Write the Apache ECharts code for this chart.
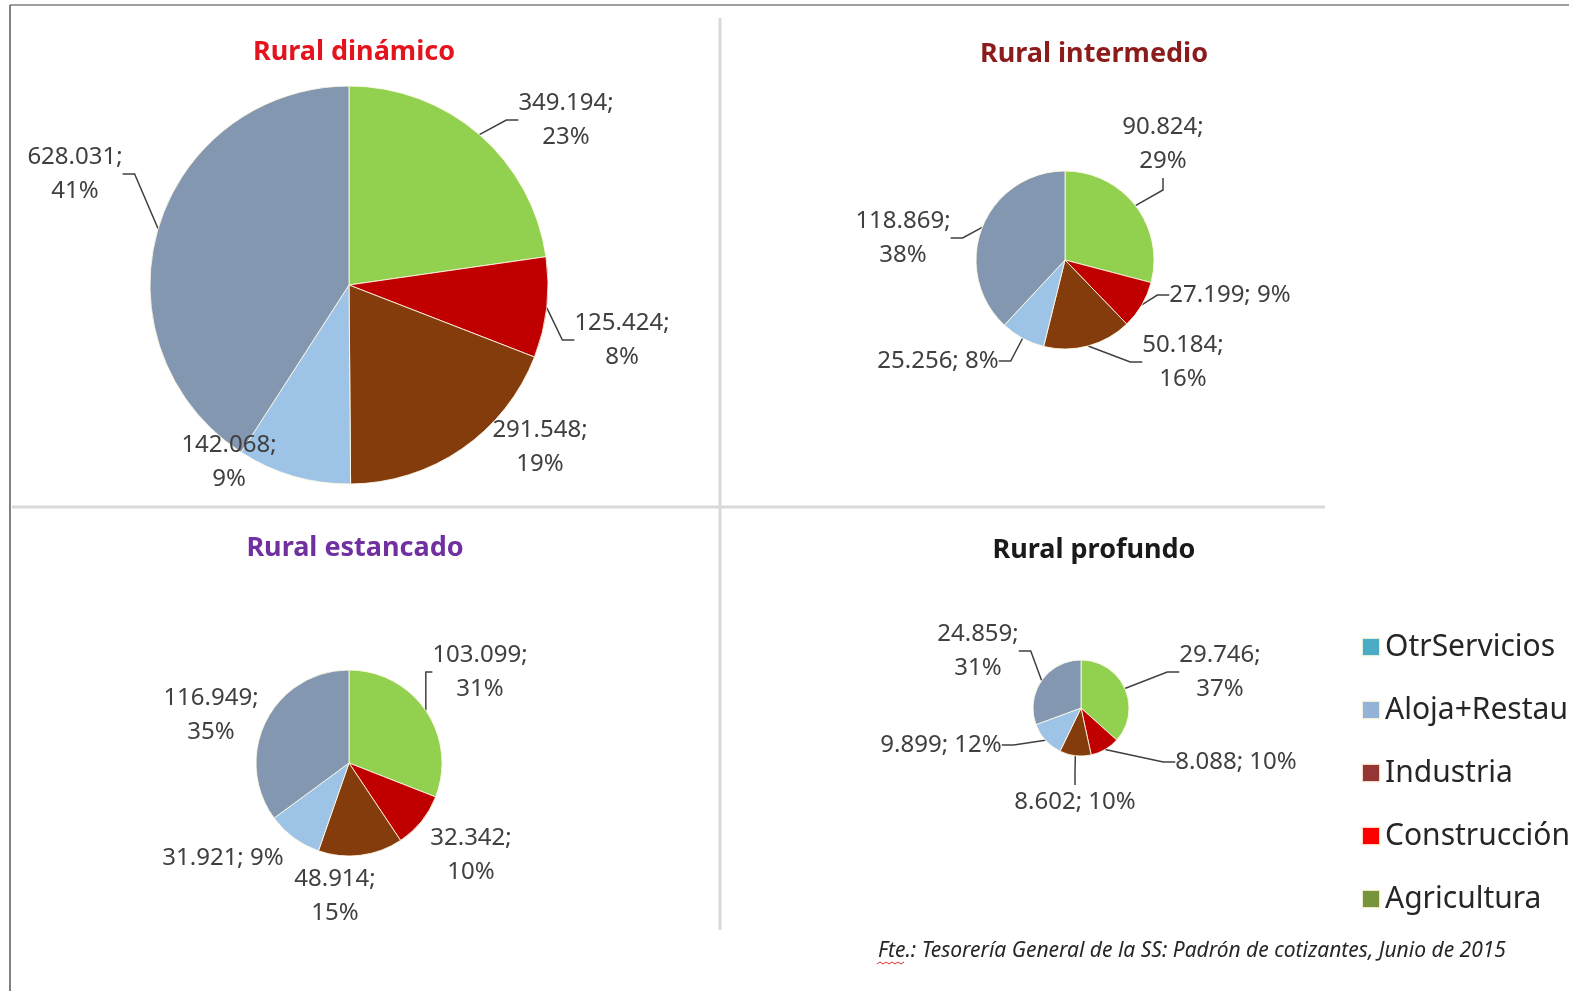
<!DOCTYPE html>
<html>
<head>
<meta charset="utf-8">
<title>Cotizantes por sector - tipos de rural</title>
<script src="https://cdn.jsdelivr.net/npm/echarts@6/dist/echarts.min.js"></script>
<style>
  html, body { margin: 0; padding: 0; background: #fff; }
  #chart { width: 1569px; height: 991px; }
</style>
</head>
<body>
<div id="chart"></div>
<script>
// sectors, clockwise from 12 o'clock
const sectors = ['Agricultura', 'Construcción', 'Industria', 'Aloja+Restauración', 'OtrServicios'];
const legendOrder = ['OtrServicios', 'Aloja+Restauración', 'Industria', 'Construcción', 'Agricultura'];

const ruralDinamico = [349194, 125424, 291548, 142068, 628031];
const ruralIntermedio = [90824, 27199, 50184, 25256, 118869];
const ruralEstancado = [103099, 32342, 48914, 31921, 116949];
const ruralProfundo = [29746, 8088, 8602, 9899, 24859];

const sliceColors = ['#92d050', '#c00000', '#843c0c', '#9dc3e6', '#8497b0'];
const legendColors = {
    'OtrServicios': '#4bacc6',
    'Aloja+Restauración': '#95b3d7',
    'Industria': '#963634',
    'Construcción': '#ff0000',
    'Agricultura': '#77933c'
};

// layout of every pie: centre, radius, title, label offsets [dx, dy, twoLines, line]
const panels = [
    {
        title: 'Rural dinámico', titleColor: '#e3141d', titlePos: [349, 34],
        values: ruralDinamico, center: [349, 285], radius: 199,
        labels: [[217, -165, true, true], [273, 55, true, true], [191, 162, true, false],
                 [-120, 177, true, false], [-274, -111, true, true]]
    },
    {
        title: 'Rural intermedio', titleColor: '#8c1c1c', titlePos: [1089, 36],
        values: ruralIntermedio, center: [1065, 260], radius: 89,
        labels: [[98, -116, true, true], [165, 35, false, true], [118, 102, true, true],
                 [-127, 101, false, true], [-162, -22, true, true]]
    },
    {
        title: 'Rural estancado', titleColor: '#7030a0', titlePos: [350, 530],
        values: ruralEstancado, center: [349, 763], radius: 93,
        labels: [[131, -91, true, true], [122, 92, true, false], [-14, 133, true, false],
                 [-126, 95, false, false], [-138, -48, true, false]]
    },
    {
        title: 'Rural profundo', titleColor: '#1a1a1a', titlePos: [1089, 532],
        values: ruralProfundo, center: [1081, 708], radius: 48,
        labels: [[139, -36, true, true], [155, 54, false, true], [-6, 94, false, true],
                 [-140, 37, false, true], [-103, -57, true, true]]
    }
];

function fmt(v) {
    return String(v).replace(/\B(?=(\d{3})+(?!\d))/g, '.');
}

const chart = echarts.init(document.getElementById('chart'));

const titles = panels.map(function (p) {
    return {
        text: p.title,
        left: p.titlePos[0],
        top: p.titlePos[1],
        textAlign: 'center',
        textStyle: { fontFamily: 'Noto Sans', fontWeight: 'bold', fontSize: 27, color: p.titleColor }
    };
});
titles.push({
    text: 'Fte.: Tesorería General de la SS: Padrón de cotizantes, Junio de 2015',
    left: 873,
    top: 936,
    textStyle: { fontFamily: 'Noto Sans', fontStyle: 'italic', fontWeight: 'normal', fontSize: 21, color: '#262626' }
});

const series = panels.map(function (p) {
    return {
        type: 'pie',
        center: p.center,
        radius: p.radius,
        startAngle: 90,
        clockwise: true,
        percentPrecision: 0,
        avoidLabelOverlap: false,
        animation: false,
        itemStyle: { borderColor: 'rgba(255,250,230,0.85)', borderWidth: 1 },
        label: {
            show: true,
            position: 'outside',
            fontFamily: 'Noto Sans',
            fontSize: 24,
            lineHeight: 34,
            color: '#404040',
            formatter: function (params) {
                const two = p.labels[params.dataIndex][2];
                return fmt(params.value) + ';' + (two ? '\n' : ' ') + params.percent + '%';
            }
        },
        labelLine: { show: true, length: 8, length2: 12, lineStyle: { color: '#404040', width: 1.5 } },
        labelLayout: function (params) {
            const o = p.labels[params.dataIndex];
            return {
                x: p.center[0] + o[0],
                y: p.center[1] + o[1],
                align: 'center',
                verticalAlign: 'middle'
            };
        },
        data: sectors.map(function (name, i) {
            return {
                name: name,
                value: p.values[i],
                itemStyle: { color: sliceColors[i] },
                labelLine: { show: p.labels[i][3] }
            };
        })
    };
});

const option = {
    backgroundColor: '#ffffff',
    title: titles,
    legend: {
        orient: 'vertical',
        left: 1356,
        top: 622,
        itemWidth: 18,
        itemHeight: 18,
        itemGap: 23,
        icon: 'rect',
        selectedMode: false,
        textStyle: { fontFamily: 'Noto Sans', fontSize: 30, lineHeight: 40, color: '#262626' },
        data: legendOrder.map(function (n) {
            return { name: n, itemStyle: { color: legendColors[n] } };
        })
    },
    graphic: [
        { type: 'line', shape: { x1: 10, y1: 5, x2: 1569, y2: 5 }, style: { stroke: '#7f7f7f', lineWidth: 1.5 } },
        { type: 'line', shape: { x1: 10, y1: 5, x2: 10, y2: 991 }, style: { stroke: '#595959', lineWidth: 1.5 } },
        { type: 'line', shape: { x1: 720, y1: 18, x2: 720, y2: 930 }, style: { stroke: '#d9d9d9', lineWidth: 3 } },
        { type: 'line', shape: { x1: 12, y1: 507, x2: 1325, y2: 507 }, style: { stroke: '#d9d9d9', lineWidth: 3 } },
        {
            type: 'polyline',
            shape: { points: [[877, 964], [880, 962], [883, 964], [886, 962], [889, 964], [892, 962], [895, 964], [898, 962], [901, 964], [904, 962]] },
            style: { stroke: '#e03030', lineWidth: 1, fill: null }
        }
    ],
    series: series
};

chart.setOption(option);
</script>
</body>
</html>
